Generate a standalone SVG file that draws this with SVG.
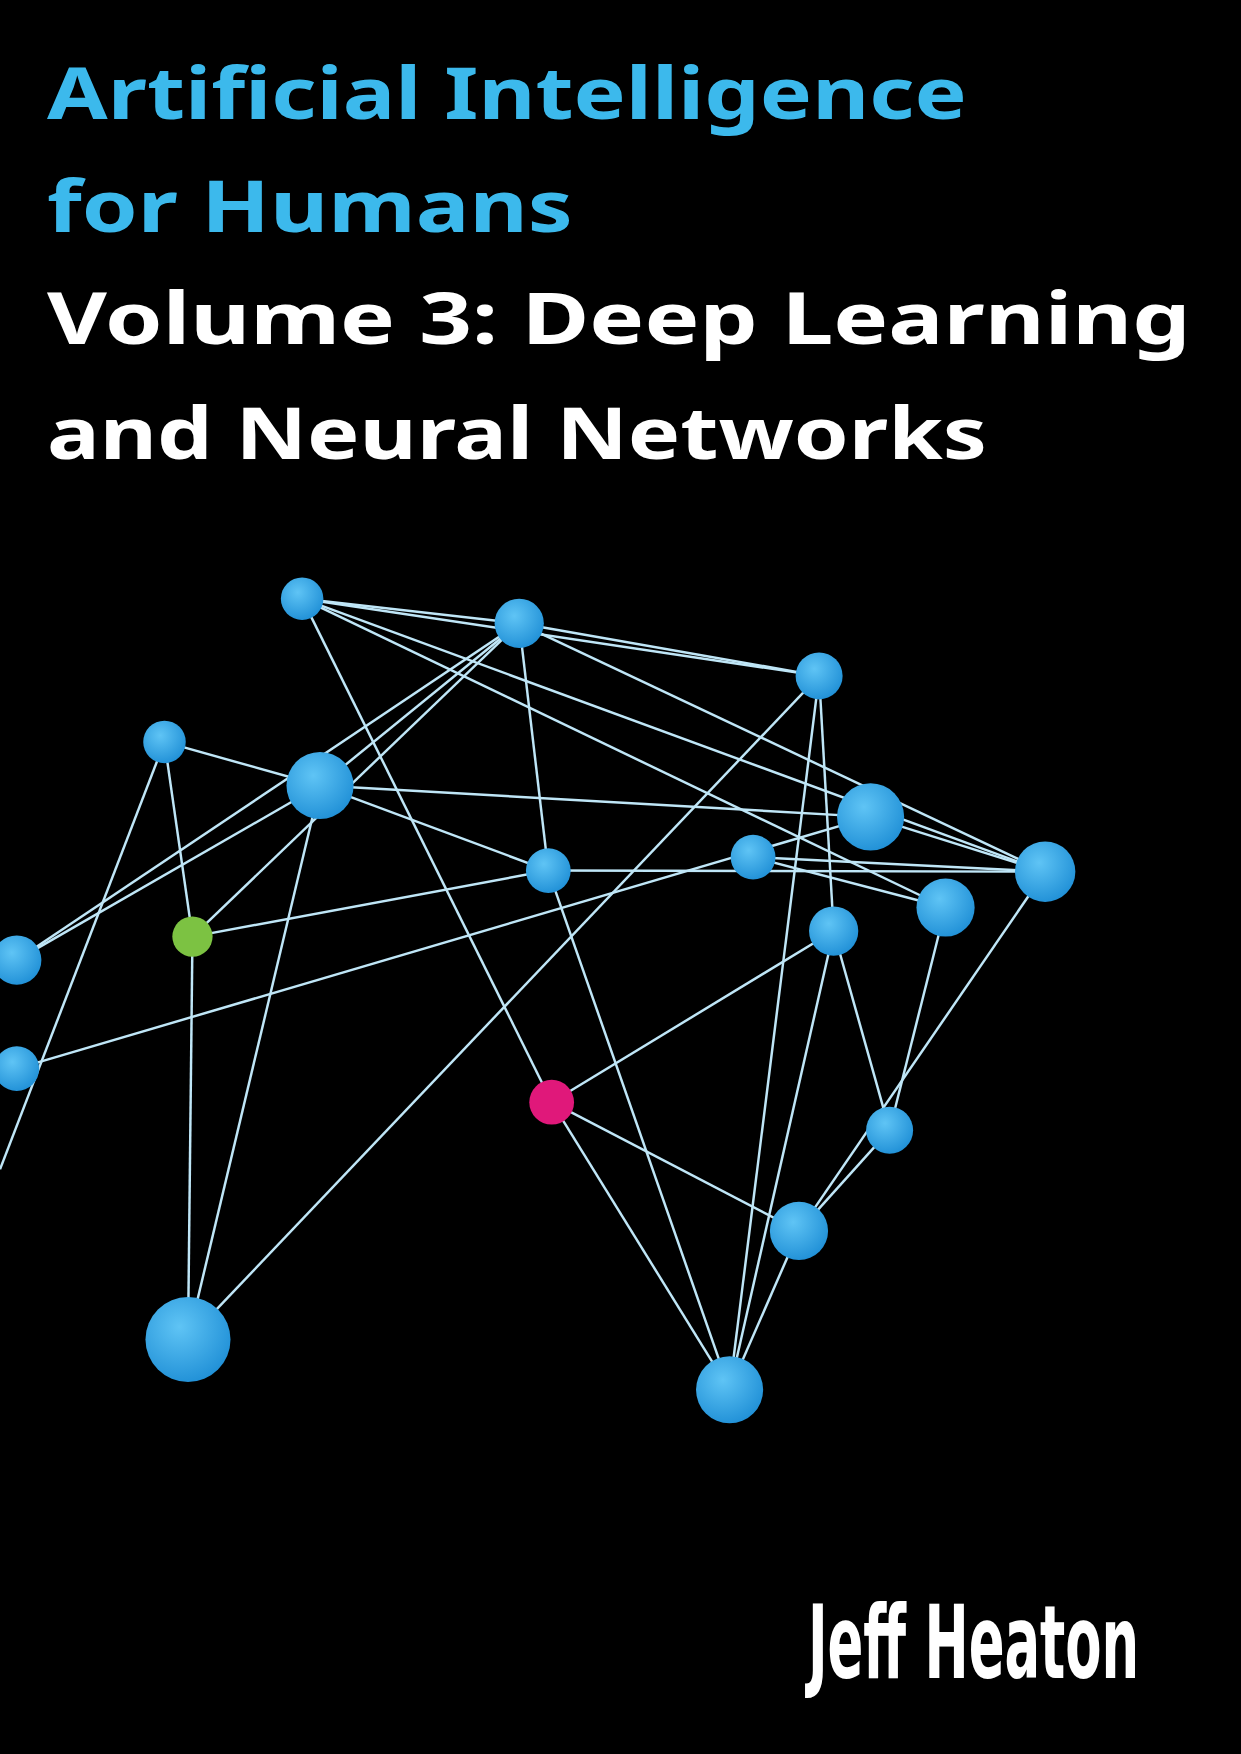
<svg xmlns="http://www.w3.org/2000/svg" width="1241" height="1754" viewBox="0 0 1241 1754">
<style>
.t{font-family:"Noto Sans","DejaVu Sans",sans-serif;font-weight:bold;font-size:64px}
.c{fill:#3cb9ec}.w{fill:#fff}
#edges line{stroke:#bfe6f7;stroke-width:2.2}
.n{fill:url(#g)}
</style>
<defs>
<radialGradient id="g" cx="0.4" cy="0.35" r="0.7"><stop offset="0" stop-color="#5fc4f5"/><stop offset="1" stop-color="#1f8fd6"/></radialGradient>
</defs>
<rect width="1241" height="1754" fill="#000"/>
<g transform="scale(1.119)">
<text class="t c" x="42" y="106" textLength="822" lengthAdjust="spacingAndGlyphs">Artificial Intelligence</text>
<text class="t c" x="42" y="207" textLength="470" lengthAdjust="spacingAndGlyphs">for Humans</text>
<text class="t w" x="42" y="307" textLength="1022" lengthAdjust="spacingAndGlyphs">Volume 3:  Deep Learning</text>
<text class="t w" x="42" y="410" textLength="840" lengthAdjust="spacingAndGlyphs">and Neural Networks</text>
<text x="722" y="1500" font-family="DejaVu Sans Condensed, DejaVu Sans, sans-serif" font-weight="bold" font-size="90" fill="#fff" textLength="296" lengthAdjust="spacingAndGlyphs">Jeff Heaton</text>
<g id="edges">
<line x1="270" y1="535" x2="464" y2="557"/><line x1="270" y1="535" x2="732" y2="604"/>
<line x1="270" y1="535" x2="934" y2="779"/><line x1="270" y1="535" x2="845" y2="811"/>
<line x1="270" y1="535" x2="493" y2="985"/>
<line x1="464" y1="557" x2="732" y2="604"/><line x1="464" y1="557" x2="934" y2="779"/>
<line x1="464" y1="557" x2="490" y2="778"/><line x1="464" y1="557" x2="286" y2="702"/>
<line x1="464" y1="557" x2="172" y2="837"/><line x1="464" y1="557" x2="15" y2="858"/>
<line x1="732" y1="604" x2="745" y2="832"/><line x1="732" y1="604" x2="652" y2="1242"/>
<line x1="732" y1="604" x2="168" y2="1197"/>
<line x1="147" y1="663" x2="286" y2="702"/><line x1="147" y1="663" x2="172" y2="837"/>
<line x1="147" y1="663" x2="0" y2="1045"/>
<line x1="286" y1="702" x2="778" y2="730"/><line x1="286" y1="702" x2="490" y2="778"/>
<line x1="286" y1="702" x2="168" y2="1197"/><line x1="286" y1="702" x2="15" y2="858"/>
<line x1="778" y1="730" x2="934" y2="779"/><line x1="778" y1="730" x2="15" y2="955"/>
<line x1="673" y1="766" x2="934" y2="779"/><line x1="490" y1="778" x2="934" y2="779"/>
<line x1="673" y1="766" x2="845" y2="811"/>
<line x1="172" y1="837" x2="490" y2="778"/><line x1="172" y1="837" x2="168" y2="1197"/>
<line x1="490" y1="778" x2="652" y2="1242"/>
<line x1="493" y1="985" x2="745" y2="832"/><line x1="493" y1="985" x2="714" y2="1100"/>
<line x1="493" y1="985" x2="652" y2="1242"/>
<line x1="745" y1="832" x2="652" y2="1242"/><line x1="745" y1="832" x2="795" y2="1010"/>
<line x1="845" y1="811" x2="795" y2="1010"/><line x1="934" y1="779" x2="714" y2="1100"/>
<line x1="795" y1="1010" x2="714" y2="1100"/><line x1="714" y1="1100" x2="652" y2="1242"/>
</g>
<g id="nA"><circle class="n" cx="270" cy="535" r="19"/></g>
<g id="nB"><circle class="n" cx="464" cy="557" r="22"/></g>
<g id="nC"><circle class="n" cx="732" cy="604" r="21"/></g>
<g id="nD"><circle class="n" cx="147" cy="663" r="19"/></g>
<g id="nE"><circle class="n" cx="286" cy="702" r="30"/></g>
<g id="nF"><circle class="n" cx="778" cy="730" r="30"/></g>
<g id="nG"><circle class="n" cx="673" cy="766" r="20"/></g>
<g id="nH"><circle class="n" cx="490" cy="778" r="20"/></g>
<g id="nI"><circle class="n" cx="934" cy="779" r="27"/></g>
<g id="nJ"><circle class="n" cx="845" cy="811" r="26"/></g>
<g id="nK"><circle class="n" cx="745" cy="832" r="22"/></g>
<g id="nL"><circle cx="172" cy="837" r="18" fill="#7cc242"/></g>
<g id="nM"><circle class="n" cx="15" cy="858" r="22"/></g>
<g id="nN"><circle class="n" cx="15" cy="955" r="20"/></g>
<g id="nO"><circle cx="493" cy="985" r="20" fill="#e0187a"/></g>
<g id="nP"><circle class="n" cx="795" cy="1010" r="21"/></g>
<g id="nQ"><circle class="n" cx="714" cy="1100" r="26"/></g>
<g id="nR"><circle class="n" cx="168" cy="1197" r="38"/></g>
<g id="nS"><circle class="n" cx="652" cy="1242" r="30"/></g>
</g>
</svg>
